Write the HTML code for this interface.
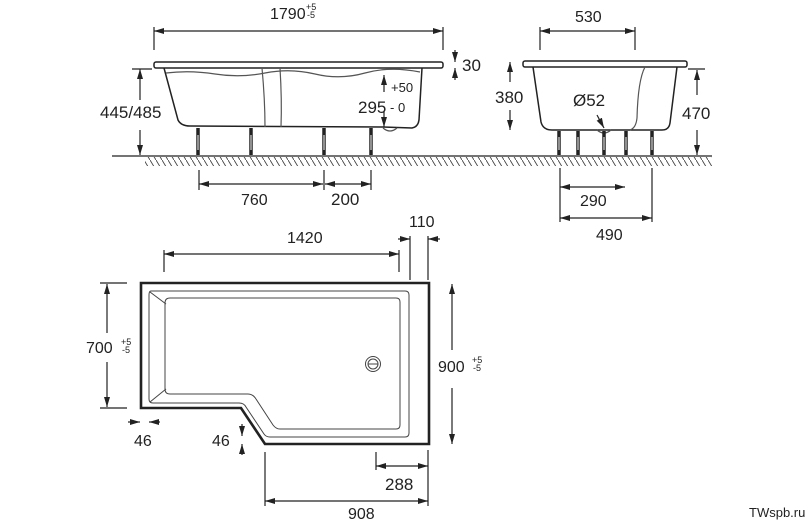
<!DOCTYPE html>
<html><head><meta charset="utf-8"><style>
html,body{margin:0;padding:0;background:#fff;}
svg{display:block;}
text{font-family:"Liberation Sans",Arial,sans-serif;fill:#222;}
</style></head><body>
<svg width="810" height="528" viewBox="0 0 810 528" xmlns="http://www.w3.org/2000/svg">
<defs>
<marker id="a" viewBox="0 0 10 6" refX="10" refY="3" markerWidth="10" markerHeight="6" markerUnits="userSpaceOnUse" orient="auto-start-reverse"><path d="M0,0 L10,3 L0,6 z" fill="#222"/></marker>
<pattern id="h" width="6" height="10" patternUnits="userSpaceOnUse"><line x1="0" y1="0" x2="6" y2="10" stroke="#444" stroke-width="0.9"/></pattern>
</defs>
<g stroke="#222" fill="none" stroke-width="1.2">

<!-- ===== side view ===== -->
<line x1="112" y1="156" x2="712" y2="156" stroke-width="1.3"/>
<rect x="145" y="157" width="567" height="9" fill="url(#h)" stroke="none"/>
<rect x="154" y="62" width="289" height="6" rx="2" fill="#fff" stroke-width="1.5"/>
<path d="M164,68 L178,120 Q181,126 190,126 L383,127 L412,128 Q418,127 419,120 L422,68" stroke-width="1.5"/>
<path d="M166,73 Q190,70 215,74 T265,73 T315,74 T365,73 T420,72" stroke="#555"/>
<path d="M262,68 Q265,100 265,127 M280,68 Q282,100 281,127" stroke="#555"/>
<path d="M383,128 q7,6 14,0" stroke="#555"/>
<g stroke-width="3.5">
<line x1="198" y1="128" x2="198" y2="155"/><line x1="251" y1="128" x2="251" y2="155"/><line x1="324" y1="128" x2="324" y2="155"/><line x1="371" y1="128" x2="371" y2="155"/>
</g>
<g stroke="#fff" stroke-width="1">
<line x1="198" y1="135" x2="198" y2="150"/><line x1="251" y1="135" x2="251" y2="150"/><line x1="324" y1="135" x2="324" y2="150"/><line x1="371" y1="135" x2="371" y2="150"/>
</g>
<!-- 1790 -->
<line x1="154" y1="27" x2="154" y2="50"/><line x1="443" y1="27" x2="443" y2="50"/>
<line x1="154" y1="31" x2="443" y2="31" marker-start="url(#a)" marker-end="url(#a)"/>
<!-- 30 -->
<line x1="455" y1="50" x2="455" y2="62" marker-end="url(#a)"/><line x1="455" y1="80" x2="455" y2="68" marker-end="url(#a)"/>
<!-- 445/485 -->
<line x1="140" y1="100" x2="140" y2="69" marker-end="url(#a)"/><line x1="140" y1="130" x2="140" y2="155" marker-end="url(#a)"/>
<line x1="132" y1="69" x2="152" y2="69"/>
<!-- 295 -->
<line x1="384" y1="92" x2="384" y2="75" marker-end="url(#a)"/><line x1="384" y1="112" x2="384" y2="127" marker-end="url(#a)"/>
<!-- 760 / 200 -->
<line x1="199" y1="170" x2="199" y2="190"/><line x1="324" y1="170" x2="324" y2="190"/><line x1="371" y1="170" x2="371" y2="190"/>
<line x1="199" y1="184" x2="323" y2="184" marker-start="url(#a)" marker-end="url(#a)"/>
<line x1="325" y1="184" x2="371" y2="184" marker-start="url(#a)" marker-end="url(#a)"/>

<!-- ===== end view ===== -->
<rect x="523" y="61" width="164" height="6" rx="2" fill="#fff" stroke-width="1.5"/>
<path d="M533,67 L541,122 Q543,130 552,130 L662,130 Q669,130 670,123 L677,67" stroke-width="1.5"/>
<path d="M645,67 Q638,80 637,118 Q636,128 630,130" stroke="#555"/>
<path d="M597,130 q7,6 14,0" stroke="#555"/>
<g stroke-width="3.5">
<line x1="559" y1="131" x2="559" y2="155"/><line x1="578" y1="131" x2="578" y2="155"/><line x1="604" y1="131" x2="604" y2="155"/><line x1="626" y1="131" x2="626" y2="155"/><line x1="652" y1="131" x2="652" y2="155"/>
</g>
<g stroke="#fff" stroke-width="1">
<line x1="559" y1="137" x2="559" y2="150"/><line x1="578" y1="137" x2="578" y2="150"/><line x1="604" y1="137" x2="604" y2="150"/><line x1="626" y1="137" x2="626" y2="150"/><line x1="652" y1="137" x2="652" y2="150"/>
</g>
<!-- 530 -->
<line x1="540" y1="27" x2="540" y2="50"/><line x1="635" y1="27" x2="635" y2="50"/>
<line x1="540" y1="31" x2="635" y2="31" marker-start="url(#a)" marker-end="url(#a)"/>
<!-- 380 -->
<line x1="510" y1="82" x2="510" y2="62" marker-end="url(#a)"/><line x1="510" y1="110" x2="510" y2="130" marker-end="url(#a)"/>
<!-- 470 -->
<line x1="697" y1="95" x2="697" y2="70" marker-end="url(#a)"/><line x1="697" y1="130" x2="697" y2="155" marker-end="url(#a)"/>
<line x1="688" y1="69" x2="705" y2="69"/>
<!-- leader -->
<line x1="597" y1="115" x2="604" y2="128" marker-end="url(#a)"/>
<!-- 290 / 490 -->
<line x1="560" y1="168" x2="560" y2="222"/><line x1="652" y1="168" x2="652" y2="222"/>
<line x1="560" y1="187" x2="625" y2="187" marker-start="url(#a)" marker-end="url(#a)"/>
<line x1="560" y1="218" x2="652" y2="218" marker-start="url(#a)" marker-end="url(#a)"/>

<!-- ===== plan view ===== -->
<path d="M141,283 L429,283 L429,444 L265,444 L241,408 L141,408 Z" stroke-width="2.6"/>
<path d="M151,291 L405,291 Q409,291 409,295 L409,433 Q409,437 405,437 L270,437 Q266,437 264,434 L246,407 Q244,403 239,403 L153,403 Q149,403 149,399 L149,295 Q149,291 151,291 Z" stroke="#444" stroke-width="1"/>
<path d="M170,298 L396,298 Q400,298 400,302 L400,425 Q400,429 396,429 L280,429 Q276,429 273,425 L256,399 Q253,394 248,394 L170,394 Q165,394 165,389 L165,303 Q165,298 170,298 Z" stroke="#444" stroke-width="1"/>
<line x1="150" y1="292" x2="166" y2="304" stroke="#444" stroke-width="1"/><line x1="150" y1="402" x2="166" y2="389" stroke="#444" stroke-width="1"/>
<circle cx="373" cy="364" r="7.5" stroke="#444" stroke-width="1"/><circle cx="373" cy="364" r="5" stroke="#444" stroke-width="1"/>
<line x1="368" y1="364" x2="378" y2="364" stroke="#444" stroke-width="1"/>
<!-- 1420 -->
<line x1="164" y1="250" x2="164" y2="272"/><line x1="399" y1="250" x2="399" y2="272"/>
<line x1="164" y1="254" x2="399" y2="254" marker-start="url(#a)" marker-end="url(#a)"/>
<!-- 110 -->
<line x1="410" y1="236" x2="410" y2="280"/><line x1="428" y1="236" x2="428" y2="280"/>
<line x1="398" y1="239" x2="410" y2="239" marker-end="url(#a)"/><line x1="440" y1="239" x2="428" y2="239" marker-end="url(#a)"/>
<!-- 700 -->
<line x1="100" y1="283" x2="127" y2="283"/><line x1="100" y1="408" x2="127" y2="408"/>
<line x1="107" y1="333" x2="107" y2="284" marker-end="url(#a)"/><line x1="107" y1="362" x2="107" y2="407" marker-end="url(#a)"/>
<!-- 900 -->
<line x1="452" y1="350" x2="452" y2="284" marker-end="url(#a)"/><line x1="452" y1="388" x2="452" y2="444" marker-end="url(#a)"/>
<!-- 46 h -->
<line x1="128" y1="422" x2="140" y2="422" marker-end="url(#a)"/><line x1="160" y1="422" x2="149" y2="422" marker-end="url(#a)"/>
<!-- 46 v -->
<line x1="242" y1="424" x2="242" y2="436" marker-end="url(#a)"/><line x1="242" y1="455" x2="242" y2="444" marker-end="url(#a)"/>
<!-- 288 / 908 -->
<line x1="376" y1="452" x2="376" y2="470"/><line x1="265" y1="452" x2="265" y2="506"/><line x1="428" y1="450" x2="428" y2="506"/>
<line x1="376" y1="466" x2="428" y2="466" marker-start="url(#a)" marker-end="url(#a)"/>
<line x1="265" y1="501" x2="428" y2="501" marker-start="url(#a)" marker-end="url(#a)"/>
</g>

<g font-size="16">
<text x="270" y="19">1790</text><text x="306" y="10" font-size="9">+5</text><text x="307" y="18" font-size="9">-5</text>
<text x="462" y="71" font-size="17">30</text>
<text x="100" y="118" font-size="17">445/485</text>
<text x="391" y="92" font-size="13">+50</text>
<text x="358" y="113" font-size="17">295</text><text x="390" y="112" font-size="13">- 0</text>
<text x="241" y="205">760</text>
<text x="331" y="205" font-size="17">200</text>
<text x="575" y="22">530</text>
<text x="495" y="103" font-size="17">380</text>
<text x="682" y="119" font-size="17">470</text>
<text x="573" y="106" font-size="17">Ø52</text>
<text x="580" y="206">290</text>
<text x="596" y="240">490</text>
<text x="287" y="243">1420</text>
<text x="409" y="227">110</text>
<text x="86" y="353">700</text><text x="121" y="345" font-size="9">+5</text><text x="122" y="353" font-size="9">-5</text>
<text x="438" y="372">900</text><text x="472" y="363" font-size="9">+5</text><text x="473" y="371" font-size="9">-5</text>
<text x="134" y="446">46</text>
<text x="212" y="446">46</text>
<text x="385" y="490" font-size="17">288</text>
<text x="348" y="519">908</text>
<text x="749" y="517" font-size="13">TWspb.ru</text>
</g>
</svg>
</body></html>
